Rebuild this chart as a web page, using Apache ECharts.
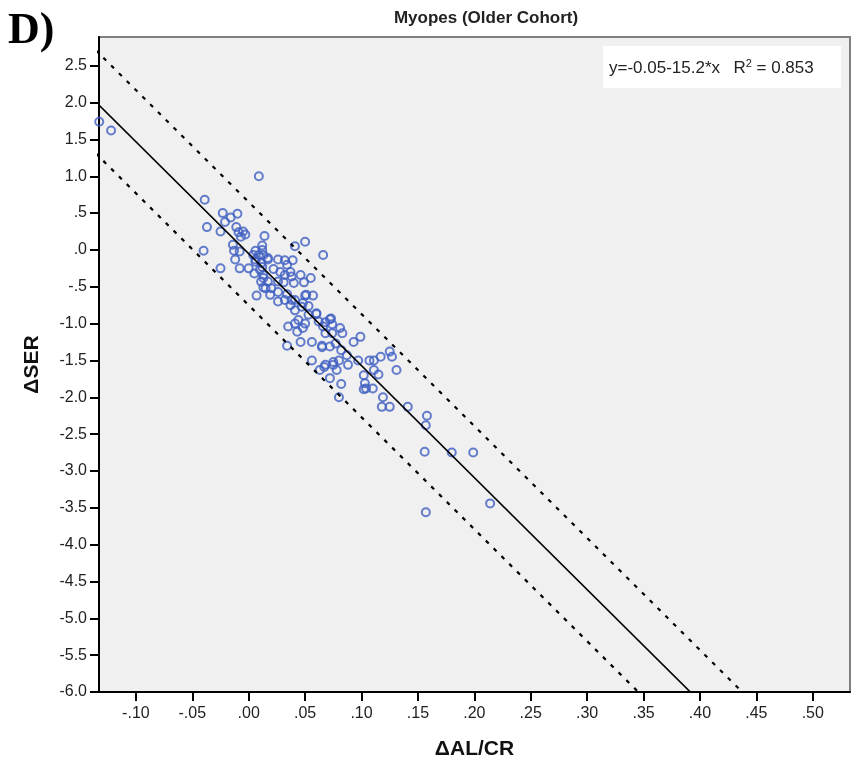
<!DOCTYPE html>
<html>
<head>
<meta charset="utf-8">
<title>Myopes (Older Cohort)</title>
<script src="https://cdn.jsdelivr.net/npm/echarts@6/dist/echarts.min.js"></script>
<style>
  html, body { margin: 0; padding: 0; background: #ffffff; }
  #chart { width: 857px; height: 765px; }
</style>
</head>
<body>
<div id="chart"></div>
<script>
// Change in axial length / corneal radius ratio vs change in spherical equivalent refraction
const dALCR = [
  -0.1325, -0.122, 0.009, -0.039, -0.023, -0.010, -0.016, -0.021, -0.037, -0.025,
  -0.011, -0.009, -0.005, -0.007, -0.003, 0.014, 0.012, -0.040, -0.014, -0.013,
  -0.008, -0.012, 0.006, 0.009, 0.013, 0.017, 0.006, 0.011, 0.026, 0.032,
  0.039, 0.034, 0.041, 0.050, 0.066, -0.025, -0.008, 0.000, 0.005, 0.012,
  0.013, 0.032, 0.037, 0.038, 0.046, 0.010, 0.013, 0.011, 0.013, 0.040,
  0.049, 0.055, 0.007, 0.015, 0.020, 0.019, 0.026, 0.026, 0.034, 0.032,
  0.038, 0.041, 0.050, 0.057, 0.053, 0.048, 0.060, 0.053, 0.062, 0.068,
  0.073, 0.066, 0.074, 0.081, 0.083, 0.074, 0.068, 0.099, 0.093, 0.035,
  0.041, 0.043, 0.050, 0.046, 0.056, 0.034, 0.065, 0.077, 0.065, 0.072,
  0.056, 0.063, 0.068, 0.072, 0.082, 0.080, 0.075, 0.078, 0.080, 0.087,
  0.088, 0.097, 0.082, 0.102, 0.103, 0.104, 0.110, 0.102, 0.107, 0.111,
  0.117, 0.111, 0.115, 0.125, 0.127, 0.131, 0.119, 0.118, 0.125, 0.141,
  0.158, 0.157, 0.156, 0.180, 0.199, 0.214, 0.157, 0.041, 0.037, 0.047,
  0.072, 0.048, 0.067, 0.075, 0.017, 0.026, 0.031, 0.012, 0.004, 0.017,
  0.022, 0.028, 0.006, 0.051, 0.060, 0.044
];
const dSER = [
  1.74, 1.62, 1.00, 0.68, 0.50, 0.49, 0.44, 0.38, 0.31, 0.25,
  0.31, 0.24, 0.25, 0.18, 0.21, 0.19, 0.06, -0.01, 0.07, -0.01,
  -0.02, -0.13, -0.01, -0.07, -0.07, -0.13, -0.13, -0.18, -0.13, -0.14,
  -0.14, -0.20, 0.05, 0.11, -0.07, -0.25, -0.25, -0.25, -0.32, -0.23,
  -0.34, -0.34, -0.30, -0.36, -0.34, -0.27, -0.38, -0.43, -0.51, -0.45,
  -0.44, -0.38, -0.62, -0.52, -0.52, -0.61, -0.57, -0.70, -0.60, -0.68,
  -0.68, -0.82, -0.62, -0.62, -0.76, -0.72, -0.87, -0.88, -0.97, -0.98,
  -0.93, -1.04, -1.01, -1.06, -1.13, -1.13, -1.13, -1.18, -1.25, -1.04,
  -1.00, -1.11, -1.00, -1.25, -1.25, -1.30, -1.30, -1.27, -1.32, -1.31,
  -1.50, -1.63, -1.56, -1.74, -1.82, -2.00, -1.52, -1.63, -1.50, -1.43,
  -1.56, -1.50, -1.36, -1.70, -1.81, -1.88, -1.88, -1.89, -1.50, -1.50,
  -1.45, -1.63, -1.69, -1.38, -1.45, -1.63, -2.00, -2.13, -2.13, -2.13,
  -2.25, -2.38, -2.74, -2.75, -2.75, -3.44, -3.56, -0.68, -0.75, -0.77,
  -0.94, -1.06, -1.59, -1.56, -0.43, -0.43, -0.44, 0.00, -0.07, -0.11,
  -0.26, -0.30, -0.16, -0.61, -0.86, -0.95
];

// Linear fit and its prediction band
const fitIntercept = -0.05;
const fitSlope = -15.2;
const rSquared = 0.853;
const bandHalfWidth = 0.70;

// Axis ranges and tick labels
const xMin = -0.1327, xMax = 0.533;
const yMin = -6.0, yMax = 2.89;
const xTicks = [-0.10, -0.05, 0.00, 0.05, 0.10, 0.15, 0.20, 0.25, 0.30, 0.35, 0.40, 0.45, 0.50];
const yTicks = [-6.0, -5.5, -5.0, -4.5, -4.0, -3.5, -3.0, -2.5, -2.0, -1.5, -1.0, -0.5, 0.0, 0.5, 1.0, 1.5, 2.0, 2.5];

const points = dALCR.map((x, i) => [x, dSER[i]]);
const lineAt = (offset) => [xMin - 0.01, xMax + 0.01].map(x => [x, fitIntercept + offset + fitSlope * x]);

// SPSS style labels: drop the leading zero
const stripZero = (s) => s.replace(/^(-?)0\./, '$1.');

const chart = echarts.init(document.getElementById('chart'), null, { renderer: 'canvas' });
const font = 'Liberation Sans, Arial, sans-serif';

chart.setOption({
  backgroundColor: '#ffffff',
  animation: false,
  grid: {
    left: 99, right: 7, top: 37, bottom: 73,
    show: true,
    backgroundColor: '#f0f0f0',
    borderColor: '#808080',
    borderWidth: 2
  },
  xAxis: {
    type: 'value',
    min: xMin, max: xMax,
    name: 'ΔAL/CR',
    nameLocation: 'middle',
    nameGap: 47,
    nameTextStyle: { fontFamily: font, fontWeight: 'bold', fontSize: 21, color: '#111' },
    axisLine: { onZero: false, lineStyle: { color: '#000', width: 2 } },
    axisTick: { show: true, length: 9, lineStyle: { color: '#000', width: 2 }, customValues: xTicks },
    axisLabel: {
      customValues: xTicks,
      margin: 14,
      fontFamily: font, fontSize: 16, color: '#222',
      formatter: (v) => stripZero(v.toFixed(2))
    },
    splitLine: { show: false }
  },
  yAxis: {
    type: 'value',
    min: yMin, max: yMax,
    name: 'ΔSER',
    nameLocation: 'middle',
    nameRotate: 90,
    nameGap: 56,
    nameTextStyle: { fontFamily: font, fontWeight: 'bold', fontSize: 21, color: '#111' },
    axisLine: { onZero: false, lineStyle: { color: '#000', width: 2 } },
    axisTick: { show: true, length: 9, lineStyle: { color: '#000', width: 2 }, customValues: yTicks },
    axisLabel: {
      customValues: yTicks,
      margin: 12,
      fontFamily: font, fontSize: 16, color: '#222',
      formatter: (v) => stripZero(v.toFixed(1))
    },
    splitLine: { show: false }
  },
  graphic: [
    {
      type: 'text', left: 8, top: 10,
      style: { text: 'D)', font: 'bold 44px "Liberation Serif", "Times New Roman", serif', fill: '#000' }
    },
    {
      type: 'text', x: 486, y: 18,
      style: { text: 'Myopes (Older Cohort)', font: 'bold 17px ' + font, fill: '#222', align: 'center', verticalAlign: 'middle' }
    },
    {
      type: 'rect', shape: { x: 603, y: 46, width: 238, height: 42 },
      style: { fill: '#ffffff' }, z: 10
    },
    {
      type: 'text', x: 609, y: 68, z: 11,
      style: {
        text: '{a|y=-0.05-15.2*x}    {a|R}{s|2}{a| = ' + rSquared.toFixed(3) + '}',
        verticalAlign: 'middle',
        rich: {
          a: { fontFamily: font, fontSize: 17, fill: '#222' },
          s: { fontFamily: font, fontSize: 11, fill: '#222', verticalAlign: 'top', padding: [0, 0, 8, 0] }
        }
      }
    }
  ],
  series: [
    {
      type: 'line', data: lineAt(bandHalfWidth), symbol: 'none', clip: true,
      lineStyle: { color: '#000', width: 2.2, type: [4, 7] }, z: 3
    },
    {
      type: 'line', data: lineAt(-bandHalfWidth), symbol: 'none', clip: true,
      lineStyle: { color: '#000', width: 2.2, type: [4, 7] }, z: 3
    },
    {
      type: 'line', data: lineAt(0), symbol: 'none', clip: true,
      lineStyle: { color: '#000', width: 1.6 }, z: 3
    },
    {
      type: 'scatter', data: points, symbol: 'circle', symbolSize: 8, clip: false,
      itemStyle: { color: 'rgba(0,0,0,0)', borderColor: '#3f5fc2', borderWidth: 2 }, z: 2
    }
  ]
});
</script>
</body>
</html>
